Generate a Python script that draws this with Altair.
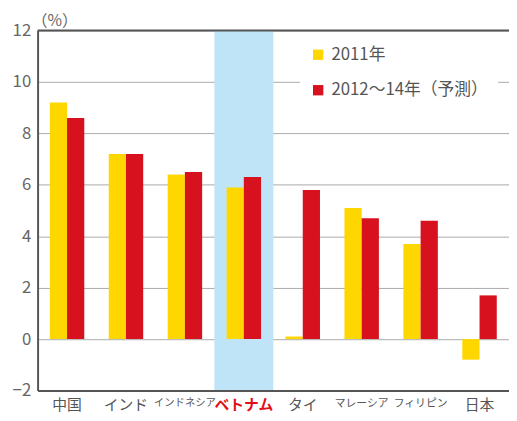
import altair as alt
import pandas as pd

categories = ["中国", "インド", "インドネシア", "ベトナム", "タイ", "マレーシア", "フィリピン", "日本"]
series = ["2011年", "2012～14年（予測）"]
values_2011 = [9.2, 7.2, 6.4, 5.9, 0.1, 5.1, 3.7, -0.8]
values_2012_14 = [8.6, 7.2, 6.5, 6.3, 5.8, 4.7, 4.6, 1.7]
highlight = ["ベトナム"]
y_ticks = [-2, 0, 2, 4, 6, 8, 10, 12]
unit_label = "（%）"

rows = []
for c, a, b in zip(categories, values_2011, values_2012_14):
    rows.append({"cat": c, "series": series[0], "value": a})
    rows.append({"cat": c, "series": series[1], "value": b})
df = pd.DataFrame(rows)

W, H = 478, 365
FONT = "Noto Sans CJK JP"

xscale = alt.Scale(domain=categories, paddingInner=0, paddingOuter=0)
yscale = alt.Scale(domain=[-2, 12], nice=False, zero=False)

label_size = {
    "condition": [
        {"test": "datum.value == 'インドネシア'", "value": 10.5},
        {"test": "datum.value == 'マレーシア' || datum.value == 'フィリピン'", "value": 11},
    ],
    "value": 15,
}
label_color = {"condition": {"test": "datum.value == 'ベトナム'", "value": "#E0101A"}, "value": "#555555"}
label_weight = {"condition": {"test": "datum.value == 'ベトナム'", "value": "bold"}, "value": "normal"}

x_axis = alt.Axis(
    title=None, labelAngle=0, ticks=False, grid=False, domain=True,
    domainColor="#555555", domainWidth=2, labelFont=FONT,
    labelFontSize=label_size, labelColor=label_color, labelFontWeight=label_weight,
    labelPadding=7, zindex=1,
)
y_axis = alt.Axis(
    title=None, values=y_ticks, grid=True, gridColor="#AAAAAA", gridWidth=1,
    domain=True, domainColor="#555555", domainWidth=2, ticks=False,
    labelFont=FONT, labelFontSize=17, labelColor="#666666", labelPadding=7,
)

band = alt.Chart(pd.DataFrame({"cat": highlight})).mark_rect(color="#BFE4F8").encode(
    x=alt.X("cat:N", scale=xscale, sort=categories, axis=x_axis),
    y=alt.datum(12, scale=yscale, axis=y_axis),
    y2=alt.datum(-2),
)

bars = alt.Chart(df).mark_bar().encode(
    x=alt.X("cat:N", scale=xscale, sort=categories, axis=x_axis),
    xOffset=alt.XOffset("series:N", scale=alt.Scale(domain=series, paddingInner=0, paddingOuter=0.71), sort=series),
    y=alt.Y("value:Q", scale=yscale, axis=y_axis, stack=None),
    y2=alt.datum(0),
    color=alt.Color(
        "series:N",
        scale=alt.Scale(domain=series, range=["#FFD700", "#D7121E"]),
        legend=alt.Legend(
            title=None, orient="none", legendX=266, legendY=6, direction="vertical",
            fillColor="white", padding=10, symbolType="square", symbolSize=110,
            symbolStrokeWidth=0, labelFont=FONT, labelFontSize=17, labelColor="#555555",
            rowPadding=18, labelOffset=5, labelLimit=300,
        ),
    ),
)

top = alt.Chart(pd.DataFrame({"v": [12]})).mark_rule(color="#555555", strokeWidth=2).encode(
    y=alt.Y("v:Q", scale=yscale)
)

unit = alt.Chart(pd.DataFrame({"t": [unit_label]})).mark_text(
    font=FONT, fontSize=16, color="#666666", align="left", baseline="middle"
).encode(x=alt.value(-6), y=alt.value(-10), text="t:N")

chart = alt.layer(band, bars, top, unit).properties(
    width=W, height=H,
    padding={"left": 30, "top": 20, "right": 0, "bottom": 25},
    autosize="none",
).configure_view(stroke=None)

chart.save("out.html", embed_options={"renderer": "svg", "actions": False})
